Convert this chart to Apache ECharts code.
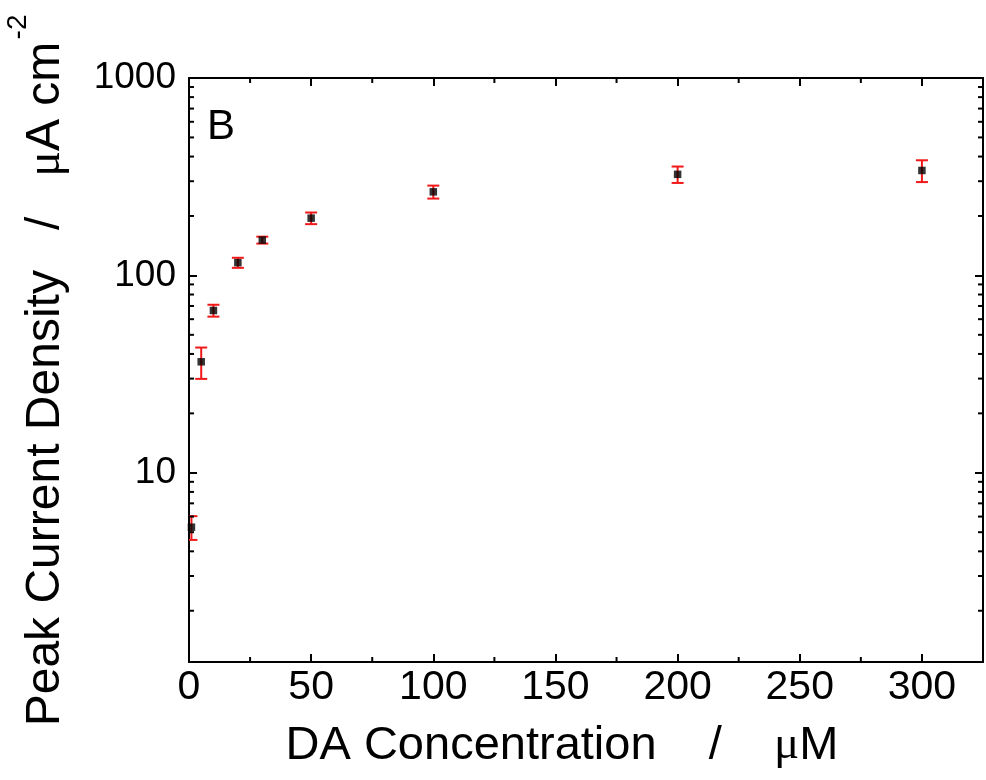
<!DOCTYPE html>
<html>
<head>
<meta charset="utf-8">
<script src="https://cdn.jsdelivr.net/npm/echarts@6/dist/echarts.min.js"></script>
<style>
html,body{margin:0;padding:0;background:#fff;}
#chart{width:986px;height:780px;}
</style>
</head>
<body>
<div id="chart"></div>
<script>
// ---- data ----
const concentration = [1, 5, 10, 20, 30, 50, 100, 200, 300];          // µM
const currentDensity = [5.3, 36.5, 66.4, 116, 151, 195, 265, 325, 340]; // µA cm^-2
const errorBars = [0.73, 6.6, 4.6, 6.8, 6.1, 13.2, 20, 31, 43];
const yTickLabels = [10, 100, 1000];
const xMinorTicks = [25, 75, 125, 175, 225, 275];
const yMinorTicks = [2, 3, 4, 5, 6, 7, 8, 9, 20, 30, 40, 50, 60, 70, 80, 90, 200, 300, 400, 500, 600, 700, 800, 900];

const X_MIN = 0, X_MAX = 325, Y_MIN = 1.1, Y_MAX = 1000;

const chart = echarts.init(document.getElementById('chart'), null, {renderer: 'canvas'});

const axisLineStyle = {color: '#000', width: 2};
const SANS = '"Liberation Sans", Arial, sans-serif';
const SERIF = '"Liberation Serif", "Times New Roman", serif';

function isPow10(v) {
  const l = Math.log10(v);
  return Math.abs(l - Math.round(l)) < 1e-6;
}

const pointData = concentration.map((c, i) => [c, currentDensity[i]]);
const errData = concentration.map((c, i) => [c, currentDensity[i] - errorBars[i], currentDensity[i] + errorBars[i]]);

const option = {
  backgroundColor: '#fff',
  animation: false,
  grid: {left: 189, right: 1, top: 78, bottom: 118, containLabel: false},
  xAxis: [
    {
      type: 'value', position: 'bottom', min: X_MIN, max: X_MAX, interval: 50,
      axisLine: {show: true, onZero: false, lineStyle: axisLineStyle},
      axisTick: {show: true, inside: true, length: 8, lineStyle: {color: '#000', width: 2}},
      axisLabel: {
        show: true, margin: 5, color: '#000', fontSize: 41,
        fontFamily: '"Liberation Sans Narrow", "Liberation Sans", Arial, sans-serif',
        formatter: v => (v % 50 === 0 ? String(v) : '')
      },
      splitLine: {show: false}
    },
    {
      type: 'value', position: 'top', min: X_MIN, max: X_MAX, interval: 50,
      axisLine: {show: true, onZero: false, lineStyle: axisLineStyle},
      axisTick: {show: true, inside: true, length: 8, lineStyle: {color: '#000', width: 2}},
      axisLabel: {show: false},
      splitLine: {show: false}
    }
  ],
  yAxis: [
    {
      type: 'log', logBase: 10, position: 'left', min: Y_MIN, max: Y_MAX,
      axisLine: {show: true, onZero: false, lineStyle: axisLineStyle},
      axisTick: {show: true, inside: true, length: 8, lineStyle: {color: '#000', width: 2}},
      axisLabel: {
        show: true, margin: 13, color: '#000', fontSize: 37,
        fontFamily: SANS,
        formatter: v => (isPow10(v) && yTickLabels.indexOf(Math.round(v)) >= 0 ? String(Math.round(v)) : '')
      },
      splitLine: {show: false}
    },
    {
      type: 'log', logBase: 10, position: 'right', min: Y_MIN, max: Y_MAX,
      axisLine: {show: true, onZero: false, lineStyle: axisLineStyle},
      axisTick: {show: true, inside: true, length: 8, lineStyle: {color: '#000', width: 2}},
      axisLabel: {show: false},
      splitLine: {show: false}
    }
  ],
  series: [
    {
      // minor ticks on bottom and top x axes
      type: 'custom', silent: true, xAxisIndex: 0, yAxisIndex: 0, z: 5,
      data: xMinorTicks.map(v => [v, Y_MIN]),
      renderItem: function (params, api) {
        const cs = params.coordSys;
        const px = api.coord([api.value(0), Y_MIN])[0];
        const len = 5;
        return {
          type: 'group',
          children: [
            {type: 'line', shape: {x1: px, y1: cs.y + cs.height, x2: px, y2: cs.y + cs.height - len}, style: {stroke: '#000', lineWidth: 2}},
            {type: 'line', shape: {x1: px, y1: cs.y, x2: px, y2: cs.y + len}, style: {stroke: '#000', lineWidth: 2}}
          ]
        };
      }
    },
    {
      // minor ticks on left and right log axes
      type: 'custom', silent: true, xAxisIndex: 0, yAxisIndex: 0, z: 5,
      data: yMinorTicks.map(v => [X_MIN, v]),
      renderItem: function (params, api) {
        const cs = params.coordSys;
        const py = api.coord([X_MIN, api.value(1)])[1];
        const len = 5;
        return {
          type: 'group',
          children: [
            {type: 'line', shape: {x1: cs.x, y1: py, x2: cs.x + len, y2: py}, style: {stroke: '#000', lineWidth: 2}},
            {type: 'line', shape: {x1: cs.x + cs.width, y1: py, x2: cs.x + cs.width - len, y2: py}, style: {stroke: '#000', lineWidth: 2}}
          ]
        };
      }
    },
    {
      // error bars
      type: 'custom', name: 'error', xAxisIndex: 0, yAxisIndex: 0, z: 3,
      data: errData,
      encode: {x: 0, y: [1, 2]},
      renderItem: function (params, api) {
        const cs = params.coordSys;
        const lo = api.coord([api.value(0), api.value(1)]);
        const hi = api.coord([api.value(0), api.value(2)]);
        const half = 6;
        const xl = Math.max(lo[0] - half, cs.x);
        const xr = Math.min(lo[0] + half, cs.x + cs.width);
        const st = {stroke: '#f01818', lineWidth: 2};
        return {
          type: 'group',
          children: [
            {type: 'line', shape: {x1: lo[0], y1: lo[1], x2: hi[0], y2: hi[1]}, style: st},
            {type: 'line', shape: {x1: xl, y1: lo[1], x2: xr, y2: lo[1]}, style: st},
            {type: 'line', shape: {x1: xl, y1: hi[1], x2: xr, y2: hi[1]}, style: st}
          ]
        };
      }
    },
    {
      type: 'scatter', name: 'Peak current density', xAxisIndex: 0, yAxisIndex: 0, z: 4,
      symbol: 'rect', symbolSize: 7.5,
      itemStyle: {color: '#000'},
      data: pointData
    }
  ],
  graphic: [
    {
      type: 'text', left: 207, top: 106, z: 10,
      style: {text: 'B', fontSize: 42, fontFamily: SANS, fill: '#000'}
    },
    {
      type: 'text', x: 562, y: 746, z: 10,
      style: {
        text: '{a|DA Concentration    /    }{mu|\u03bc}{a|M}',
        align: 'center', verticalAlign: 'middle',
        rich: {
          a: {fontSize: 47, fontFamily: SANS, fill: '#000', color: '#000'},
          mu: {fontSize: 47, fontFamily: SERIF, fill: '#000', color: '#000'}
        }
      }
    },
    {
      type: 'text', x: 46, y: 384, rotation: Math.PI / 2, z: 10,
      style: {
        text: '{a|Peak Current Density   /   }{mu|\u03bc}{a|A cm}',
        align: 'center', verticalAlign: 'middle',
        rich: {
          a: {fontSize: 48, fontFamily: SANS, fill: '#000', color: '#000'},
          mu: {fontSize: 48, fontFamily: SERIF, fill: '#000', color: '#000'}
        }
      }
    },
    {
      type: 'text', x: 18, y: 27, rotation: Math.PI / 2, z: 10,
      style: {
        text: '-2', fontSize: 28, fontFamily: SANS, fill: '#000',
        align: 'center', verticalAlign: 'middle'
      }
    }
  ]
};

chart.setOption(option);
</script>
</body>
</html>
